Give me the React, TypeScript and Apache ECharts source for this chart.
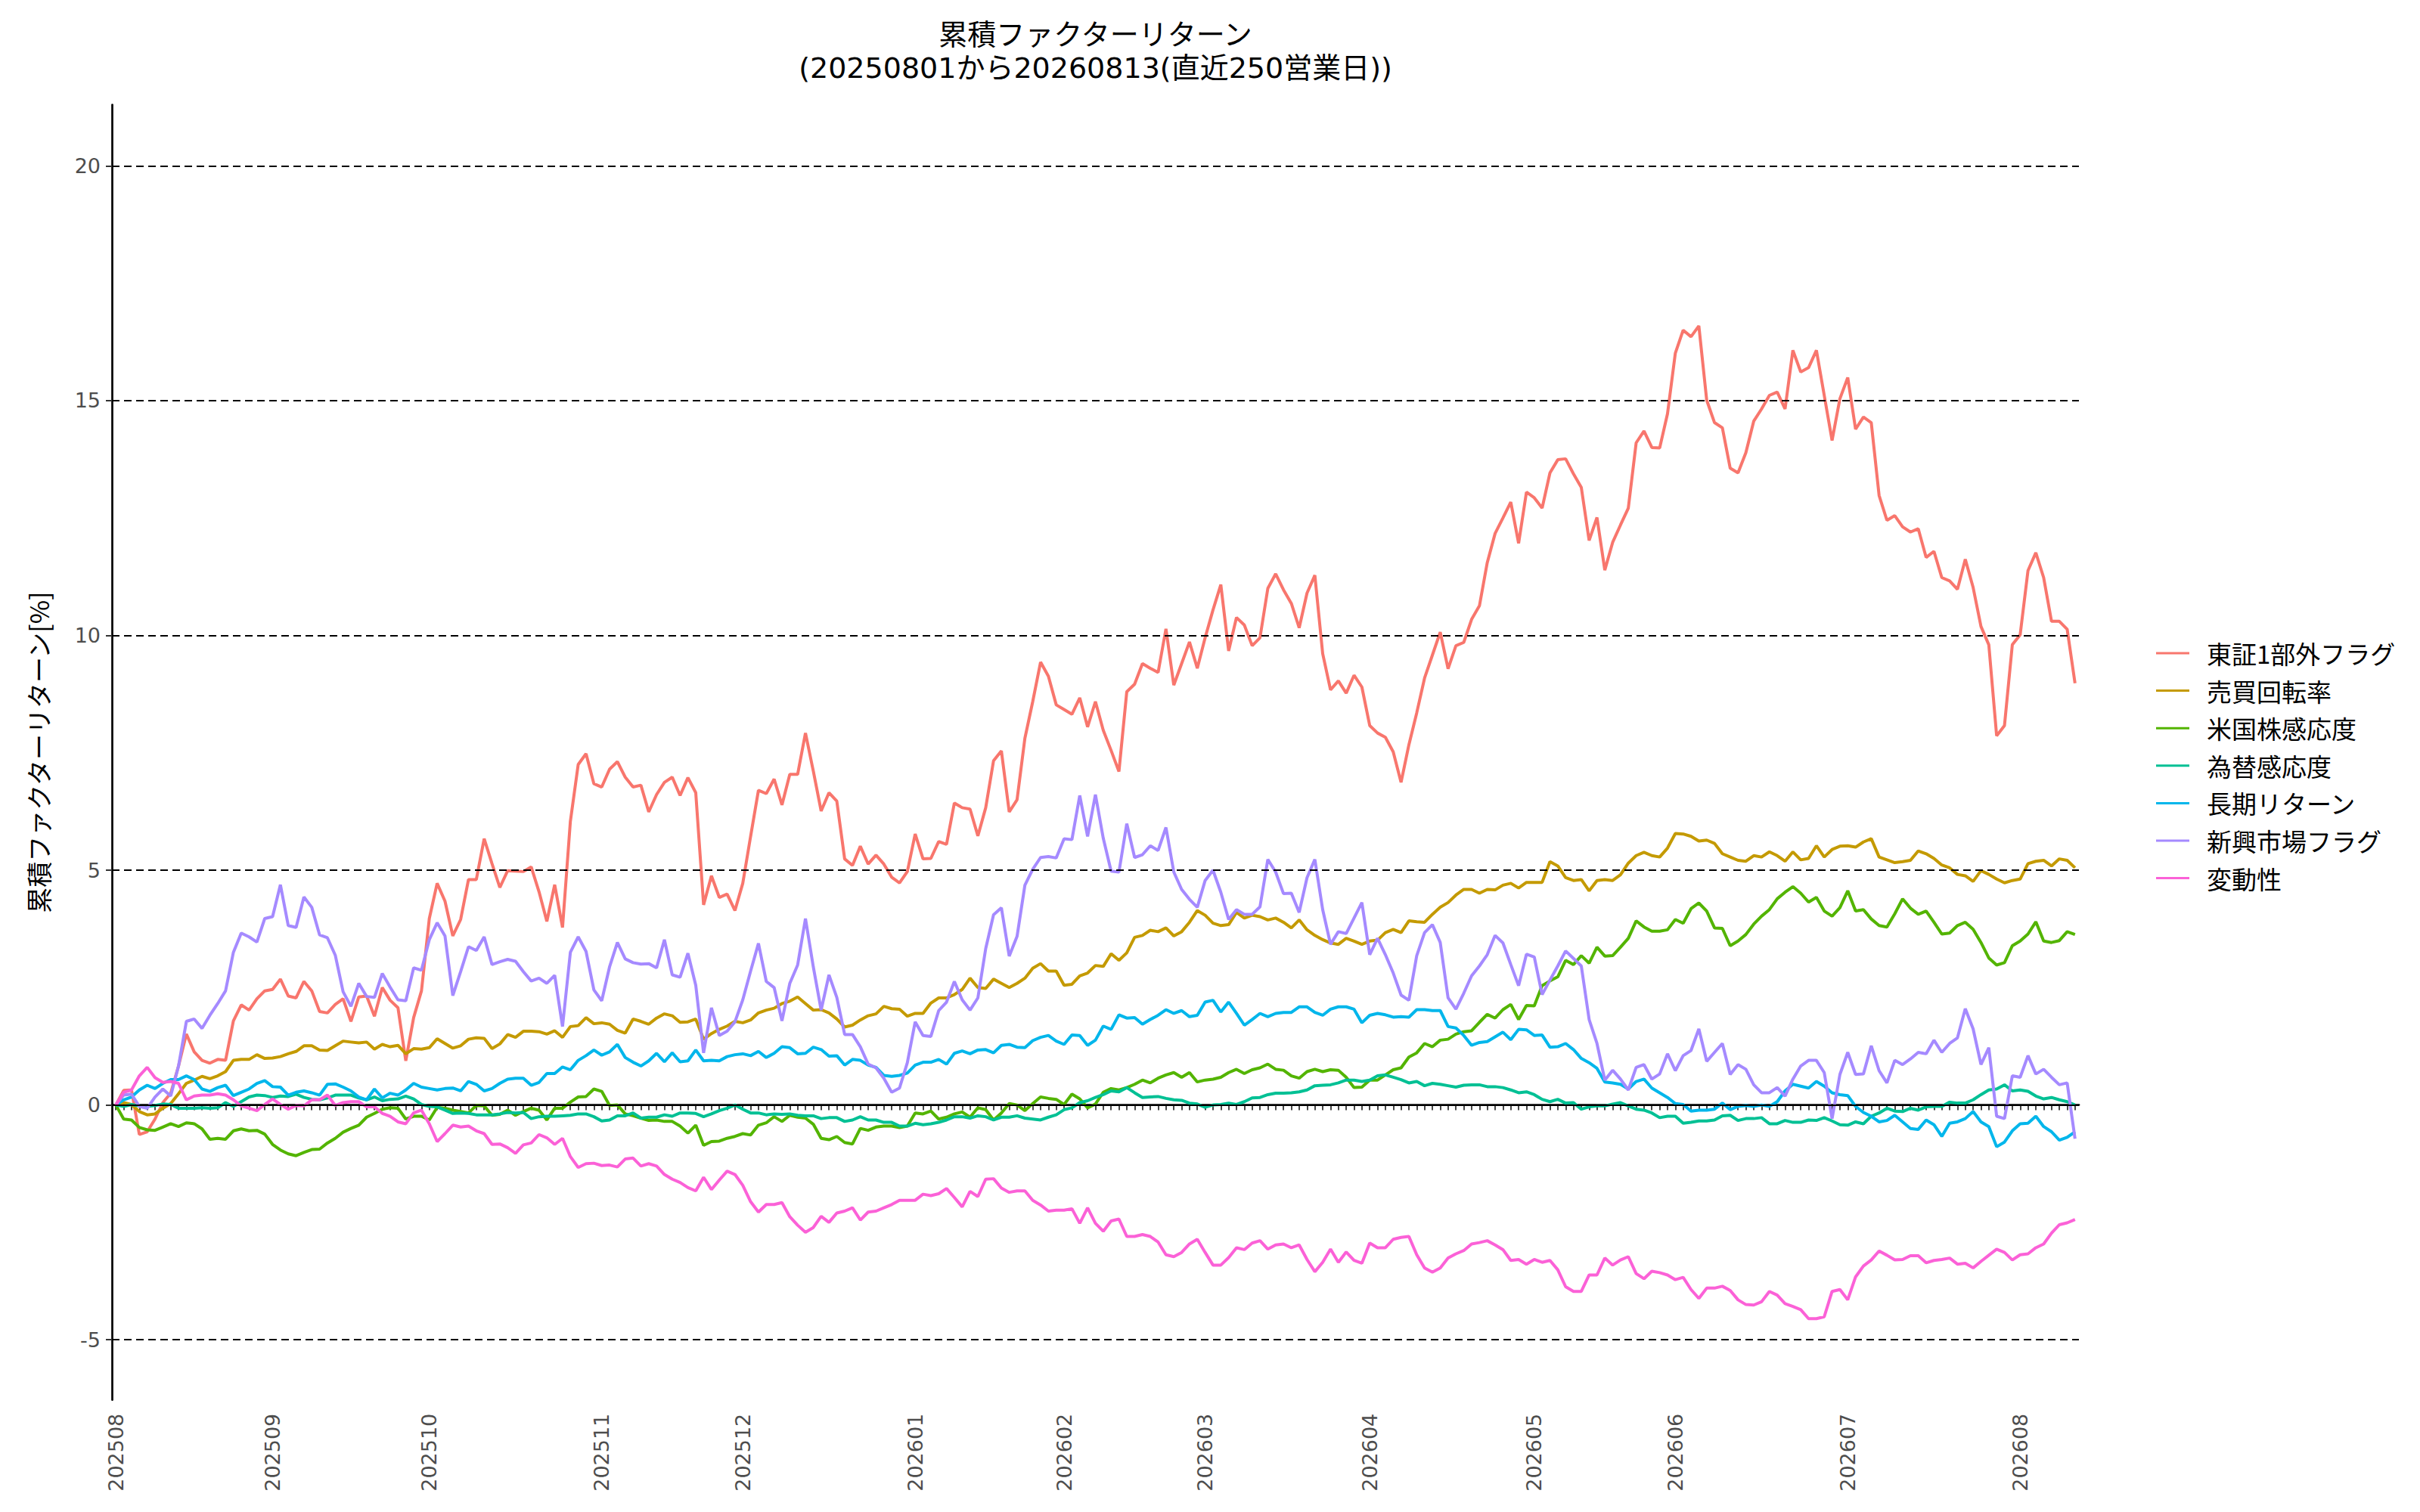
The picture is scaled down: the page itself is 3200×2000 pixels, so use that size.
import React, { useEffect, useRef } from "react";
import * as echarts from "echarts";

// ---- axis / category data ----
const months = ["202508", "202509", "202510", "202511", "202512", "202601", "202602", "202603", "202604", "202605", "202606", "202607", "202608"];
const tradingDaysPerMonth = [20, 20, 22, 18, 22, 19, 18, 21, 21, 18, 22, 22, 8];
const yTicks = [-5, 0, 5, 10, 15, 20];
const dashedLevels = [-5, 5, 10, 15, 20];

const seriesNames = ["東証1部外フラグ", "売買回転率", "米国株感応度", "為替感応度", "長期リターン", "新興市場フラグ", "変動性"];
const seriesColors = ["#F8766D", "#C49A00", "#53B400", "#00C094", "#00B6EB", "#A58AFF", "#FB61D7"];

// ---- series values (cumulative return, %) ----
const tosho1Outside = [
  0, 0.31, 0.32, -0.63, -0.57, -0.30, 0.05, 0.25, 0.83, 1.51,
  1.13, 0.95, 0.89, 0.97, 0.95, 1.79, 2.13, 2.02, 2.26, 2.43,
  2.46, 2.68, 2.32, 2.28, 2.63, 2.43, 1.99, 1.96, 2.14, 2.26,
  1.78, 2.30, 2.32, 1.89, 2.50, 2.23, 2.07, 0.94, 1.86, 2.43,
  3.97, 4.72, 4.34, 3.60, 3.95, 4.80, 4.80, 5.67, 5.14, 4.63,
  4.99, 4.98, 4.97, 5.07, 4.54, 3.91, 4.69, 3.78, 6.04, 7.25,
  7.48, 6.84, 6.77, 7.15, 7.31, 6.98, 6.77, 6.81, 6.24, 6.61,
  6.87, 6.98, 6.59, 6.97, 6.65, 4.26, 4.88, 4.42, 4.49, 4.14,
  4.72, 5.72, 6.70, 6.63, 6.94, 6.39, 7.04, 7.04, 7.92, 7.11,
  6.26, 6.65, 6.47, 5.24, 5.10, 5.51, 5.13, 5.32, 5.13, 4.85,
  4.73, 4.97, 5.77, 5.24, 5.25, 5.61, 5.55, 6.43, 6.33, 6.30,
  5.73, 6.33, 7.33, 7.54, 6.24, 6.50, 7.81, 8.59, 9.43, 9.13,
  8.52, 8.42, 8.32, 8.67, 8.05, 8.59, 7.98, 7.55, 7.10, 8.80,
  8.96, 9.40, 9.30, 9.21, 10.14, 8.94, 9.40, 9.86, 9.30, 9.95,
  10.54, 11.08, 9.67, 10.38, 10.22, 9.78, 9.95, 11.00, 11.31, 10.97,
  10.68, 10.16, 10.90, 11.28, 9.61, 8.84, 9.03, 8.77, 9.15, 8.90,
  8.08, 7.92, 7.83, 7.52, 6.87, 7.67, 8.35, 9.09, 9.58, 10.07,
  9.29, 9.78, 9.85, 10.34, 10.63, 11.55, 12.17, 12.50, 12.84, 11.96,
  13.05, 12.93, 12.71, 13.46, 13.74, 13.76, 13.44, 13.15, 12.02, 12.51,
  11.39, 11.98, 12.35, 12.71, 14.10, 14.35, 14.00, 13.99, 14.72, 16.01,
  16.50, 16.36, 16.59, 15.01, 14.53, 14.42, 13.56, 13.46, 13.89, 14.56,
  14.82, 15.11, 15.18, 14.82, 16.07, 15.61, 15.70, 16.07, 15.11, 14.15,
  15.04, 15.49, 14.39, 14.65, 14.53, 12.98, 12.45, 12.55, 12.31, 12.20,
  12.27, 11.66, 11.79, 11.23, 11.16, 10.98, 11.62, 11.02, 10.19, 9.80,
  7.86, 8.08, 9.80, 10.01, 11.38, 11.76, 11.23, 10.30, 10.30, 10.13,
  8.98,
];

const turnoverRate = [
  0, 0.05, 0.01, -0.14, -0.21, -0.19, -0.07, 0.03, 0.24, 0.46,
  0.53, 0.61, 0.56, 0.62, 0.71, 0.95, 0.97, 0.97, 1.07, 0.99,
  1.00, 1.03, 1.09, 1.14, 1.26, 1.26, 1.17, 1.16, 1.26, 1.36,
  1.34, 1.32, 1.34, 1.19, 1.29, 1.24, 1.27, 1.09, 1.20, 1.19,
  1.22, 1.41, 1.31, 1.21, 1.26, 1.40, 1.43, 1.42, 1.20, 1.30,
  1.50, 1.44, 1.57, 1.57, 1.56, 1.51, 1.58, 1.44, 1.67, 1.69,
  1.86, 1.73, 1.75, 1.72, 1.59, 1.53, 1.83, 1.78, 1.72, 1.85,
  1.94, 1.90, 1.76, 1.77, 1.83, 1.40, 1.52, 1.61, 1.68, 1.78,
  1.75, 1.81, 1.96, 2.02, 2.06, 2.16, 2.21, 2.30, 2.16, 2.02,
  2.03, 1.96, 1.83, 1.66, 1.70, 1.81, 1.90, 1.94, 2.10, 2.05,
  2.04, 1.89, 1.95, 1.95, 2.17, 2.28, 2.28, 2.35, 2.46, 2.70,
  2.50, 2.48, 2.68, 2.59, 2.50, 2.59, 2.70, 2.91, 3.01, 2.85,
  2.85, 2.55, 2.57, 2.75, 2.81, 2.97, 2.95, 3.22, 3.08, 3.24,
  3.57, 3.61, 3.72, 3.69, 3.77, 3.60, 3.69, 3.89, 4.14, 4.04,
  3.87, 3.82, 3.84, 4.10, 3.98, 4.04, 4.01, 3.94, 3.98, 3.89,
  3.77, 3.94, 3.73, 3.61, 3.52, 3.45, 3.42, 3.55, 3.49, 3.42,
  3.49, 3.51, 3.67, 3.74, 3.67, 3.92, 3.90, 3.89, 4.06, 4.21,
  4.31, 4.47, 4.59, 4.59, 4.51, 4.59, 4.58, 4.68, 4.72, 4.62,
  4.74, 4.74, 4.74, 5.18, 5.09, 4.84, 4.78, 4.80, 4.56, 4.78,
  4.80, 4.78, 4.90, 5.15, 5.31, 5.38, 5.31, 5.28, 5.47, 5.78,
  5.77, 5.72, 5.62, 5.64, 5.57, 5.35, 5.28, 5.21, 5.19, 5.31,
  5.28, 5.39, 5.31, 5.19, 5.39, 5.22, 5.25, 5.52, 5.28, 5.44,
  5.51, 5.52, 5.49, 5.60, 5.67, 5.28, 5.22, 5.16, 5.18, 5.21,
  5.41, 5.35, 5.25, 5.11, 5.05, 4.91, 4.88, 4.76, 4.99, 4.91,
  4.81, 4.73, 4.78, 4.81, 5.14, 5.19, 5.21, 5.09, 5.24, 5.21,
  5.05,
];

const usEquitySensitivity = [
  0, -0.30, -0.32, -0.48, -0.53, -0.54, -0.47, -0.40, -0.46, -0.38,
  -0.40, -0.51, -0.73, -0.71, -0.73, -0.55, -0.51, -0.55, -0.54, -0.62,
  -0.84, -0.96, -1.04, -1.08, -1.01, -0.95, -0.94, -0.81, -0.71, -0.58,
  -0.50, -0.43, -0.26, -0.18, -0.09, -0.06, -0.07, -0.30, -0.24, -0.24,
  -0.32, -0.05, -0.07, -0.11, -0.14, -0.17, -0.01, -0.02, -0.22, -0.20,
  -0.11, -0.22, -0.14, -0.07, -0.11, -0.32, -0.07, -0.07, 0.06, 0.17,
  0.18, 0.34, 0.29, -0.01, 0.00, -0.19, -0.23, -0.28, -0.33, -0.32,
  -0.35, -0.35, -0.45, -0.60, -0.43, -0.86, -0.78, -0.77, -0.71, -0.67,
  -0.61, -0.64, -0.43, -0.38, -0.25, -0.35, -0.22, -0.26, -0.28, -0.41,
  -0.71, -0.74, -0.67, -0.80, -0.83, -0.50, -0.54, -0.47, -0.45, -0.45,
  -0.48, -0.45, -0.17, -0.19, -0.13, -0.30, -0.26, -0.19, -0.15, -0.26,
  -0.06, -0.10, -0.32, -0.17, 0.03, 0.00, -0.12, 0.03, 0.17, 0.14,
  0.12, 0.01, 0.23, 0.13, -0.06, 0.02, 0.27, 0.35, 0.32, 0.37,
  0.44, 0.53, 0.47, 0.57, 0.64, 0.69, 0.59, 0.69, 0.49, 0.53,
  0.55, 0.59, 0.69, 0.76, 0.67, 0.75, 0.79, 0.87, 0.76, 0.74,
  0.62, 0.57, 0.71, 0.76, 0.71, 0.75, 0.74, 0.59, 0.37, 0.38,
  0.53, 0.53, 0.64, 0.75, 0.79, 1.02, 1.11, 1.31, 1.24, 1.38,
  1.40, 1.51, 1.56, 1.58, 1.76, 1.93, 1.85, 2.03, 2.14, 1.82,
  2.12, 2.11, 2.54, 2.64, 2.73, 3.08, 2.99, 3.18, 3.02, 3.36,
  3.17, 3.18, 3.36, 3.55, 3.92, 3.79, 3.70, 3.70, 3.73, 3.95,
  3.87, 4.18, 4.30, 4.13, 3.77, 3.76, 3.39, 3.49, 3.63, 3.85,
  4.02, 4.16, 4.39, 4.53, 4.65, 4.51, 4.32, 4.42, 4.13, 4.02,
  4.20, 4.56, 4.13, 4.16, 3.96, 3.82, 3.79, 4.07, 4.39, 4.19,
  4.06, 4.13, 3.89, 3.64, 3.66, 3.82, 3.89, 3.74, 3.46, 3.13,
  2.98, 3.03, 3.39, 3.49, 3.64, 3.90, 3.49, 3.46, 3.50, 3.69,
  3.63,
];

const fxSensitivity = [
  0, -0.03, 0.01, -0.02, -0.03, -0.01, 0.02, 0.01, -0.07, -0.07,
  -0.07, -0.06, -0.07, -0.06, 0.05, -0.03, 0.07, 0.17, 0.21, 0.20,
  0.16, 0.19, 0.18, 0.23, 0.16, 0.12, 0.11, 0.15, 0.21, 0.21,
  0.21, 0.15, 0.11, 0.17, 0.09, 0.12, 0.13, 0.19, 0.13, 0.01,
  -0.03, -0.04, -0.11, -0.18, -0.17, -0.18, -0.21, -0.21, -0.21, -0.19,
  -0.16, -0.17, -0.16, -0.29, -0.25, -0.24, -0.24, -0.23, -0.22, -0.19,
  -0.19, -0.25, -0.34, -0.32, -0.23, -0.23, -0.17, -0.28, -0.26, -0.26,
  -0.21, -0.24, -0.17, -0.17, -0.18, -0.25, -0.19, -0.12, -0.07, 0.00,
  -0.09, -0.17, -0.17, -0.21, -0.19, -0.20, -0.19, -0.22, -0.23, -0.23,
  -0.29, -0.27, -0.27, -0.35, -0.32, -0.25, -0.32, -0.32, -0.37, -0.37,
  -0.45, -0.45, -0.39, -0.42, -0.40, -0.37, -0.32, -0.25, -0.25, -0.28,
  -0.23, -0.25, -0.32, -0.26, -0.26, -0.23, -0.28, -0.30, -0.32, -0.26,
  -0.21, -0.10, -0.06, 0.05, 0.09, 0.16, 0.22, 0.30, 0.28, 0.37,
  0.26, 0.16, 0.17, 0.18, 0.14, 0.11, 0.10, 0.04, 0.02, -0.05,
  0.00, 0.01, 0.04, 0.01, 0.07, 0.15, 0.16, 0.22, 0.25, 0.25,
  0.26, 0.28, 0.32, 0.41, 0.42, 0.43, 0.47, 0.53, 0.53, 0.50,
  0.53, 0.62, 0.64, 0.59, 0.54, 0.47, 0.50, 0.41, 0.46, 0.44,
  0.41, 0.38, 0.42, 0.43, 0.43, 0.39, 0.39, 0.37, 0.32, 0.26,
  0.28, 0.22, 0.12, 0.07, 0.12, 0.04, 0.05, -0.09, -0.04, -0.02,
  -0.02, 0.02, 0.05, -0.02, -0.09, -0.11, -0.17, -0.27, -0.24, -0.24,
  -0.39, -0.37, -0.34, -0.34, -0.32, -0.23, -0.22, -0.33, -0.29, -0.29,
  -0.27, -0.40, -0.40, -0.33, -0.37, -0.37, -0.32, -0.33, -0.27, -0.34,
  -0.42, -0.43, -0.36, -0.40, -0.24, -0.17, -0.07, -0.13, -0.14, -0.07,
  -0.11, -0.04, -0.03, -0.03, 0.06, 0.04, 0.04, 0.11, 0.22, 0.32,
  0.34, 0.43, 0.30, 0.32, 0.29, 0.19, 0.13, 0.16, 0.11, 0.07,
  0.00,
];

const longTermReturn = [
  0, 0.11, 0.17, 0.32, 0.42, 0.35, 0.46, 0.54, 0.54, 0.62,
  0.54, 0.34, 0.29, 0.37, 0.42, 0.20, 0.27, 0.34, 0.46, 0.52,
  0.39, 0.38, 0.21, 0.27, 0.30, 0.26, 0.21, 0.44, 0.45, 0.38,
  0.30, 0.17, 0.11, 0.34, 0.15, 0.25, 0.21, 0.32, 0.46, 0.38,
  0.35, 0.32, 0.35, 0.36, 0.30, 0.50, 0.44, 0.30, 0.35, 0.46,
  0.55, 0.57, 0.57, 0.42, 0.48, 0.67, 0.67, 0.81, 0.75, 0.95,
  1.05, 1.17, 1.06, 1.13, 1.29, 1.01, 0.91, 0.83, 0.94, 1.10,
  0.92, 1.11, 0.92, 0.94, 1.17, 0.94, 0.95, 0.94, 1.03, 1.07,
  1.09, 1.05, 1.14, 1.01, 1.10, 1.24, 1.22, 1.09, 1.10, 1.23,
  1.18, 1.04, 1.05, 0.85, 0.97, 0.95, 0.85, 0.80, 0.63, 0.61,
  0.63, 0.68, 0.85, 0.91, 0.91, 0.97, 0.87, 1.10, 1.15, 1.09,
  1.17, 1.18, 1.11, 1.27, 1.29, 1.23, 1.22, 1.37, 1.44, 1.48,
  1.36, 1.29, 1.49, 1.48, 1.27, 1.38, 1.68, 1.61, 1.92, 1.85,
  1.86, 1.72, 1.82, 1.91, 2.03, 1.95, 2.01, 1.88, 1.91, 2.19,
  2.23, 1.98, 2.19, 1.95, 1.70, 1.82, 1.95, 1.88, 1.95, 1.97,
  1.97, 2.09, 2.09, 1.97, 1.91, 2.04, 2.09, 2.09, 2.04, 1.75,
  1.91, 1.95, 1.92, 1.87, 1.88, 1.87, 2.03, 2.03, 2.01, 2.01,
  1.67, 1.64, 1.48, 1.27, 1.33, 1.35, 1.45, 1.55, 1.39, 1.61,
  1.60, 1.48, 1.49, 1.23, 1.24, 1.31, 1.18, 0.99, 0.90, 0.78,
  0.49, 0.47, 0.44, 0.34, 0.50, 0.55, 0.36, 0.26, 0.16, 0.03,
  0.01, -0.13, -0.11, -0.11, -0.09, 0.04, -0.10, -0.03, -0.01, -0.03,
  0.00, -0.03, 0.07, 0.30, 0.44, 0.40, 0.36, 0.50, 0.40, 0.26,
  0.22, 0.20, -0.03, -0.16, -0.24, -0.36, -0.33, -0.22, -0.36, -0.50,
  -0.52, -0.32, -0.42, -0.67, -0.39, -0.36, -0.29, -0.14, -0.36, -0.46,
  -0.89, -0.79, -0.55, -0.40, -0.39, -0.24, -0.46, -0.57, -0.75, -0.69,
  -0.57,
];

const emergingMarketFlag = [
  0, 0.21, 0.23, -0.03, -0.07, 0.17, 0.34, 0.19, 0.83, 1.78,
  1.83, 1.63, 1.91, 2.16, 2.43, 3.25, 3.66, 3.58, 3.47, 3.97,
  4.01, 4.69, 3.82, 3.78, 4.43, 4.21, 3.62, 3.56, 3.19, 2.41,
  2.10, 2.59, 2.31, 2.29, 2.80, 2.51, 2.24, 2.22, 2.92, 2.87,
  3.52, 3.88, 3.60, 2.33, 2.84, 3.37, 3.29, 3.58, 2.99, 3.05,
  3.10, 3.06, 2.84, 2.64, 2.70, 2.59, 2.76, 1.67, 3.25, 3.58,
  3.27, 2.45, 2.22, 2.94, 3.46, 3.11, 3.03, 3.00, 3.01, 2.92,
  3.52, 2.77, 2.72, 3.23, 2.55, 1.11, 2.07, 1.48, 1.57, 1.77,
  2.24, 2.85, 3.44, 2.63, 2.50, 1.79, 2.59, 2.98, 3.97, 2.94,
  2.02, 2.77, 2.29, 1.50, 1.50, 1.24, 0.87, 0.79, 0.57, 0.27,
  0.36, 0.90, 1.77, 1.48, 1.46, 2.01, 2.19, 2.63, 2.24, 2.02,
  2.28, 3.33, 4.05, 4.20, 3.17, 3.59, 4.68, 5.02, 5.27, 5.29,
  5.26, 5.67, 5.65, 6.59, 5.72, 6.61, 5.68, 4.98, 4.96, 5.99,
  5.27, 5.33, 5.52, 5.42, 5.91, 4.96, 4.59, 4.38, 4.21, 4.78,
  5.00, 4.53, 3.95, 4.16, 4.06, 4.06, 4.22, 5.23, 4.96, 4.50,
  4.51, 4.10, 4.84, 5.23, 4.16, 3.42, 3.69, 3.65, 3.98, 4.31,
  3.20, 3.55, 3.20, 2.81, 2.34, 2.23, 3.18, 3.67, 3.84, 3.46,
  2.28, 2.04, 2.38, 2.75, 2.96, 3.20, 3.61, 3.45, 2.99, 2.54,
  3.21, 3.15, 2.35, 2.66, 2.96, 3.28, 3.12, 2.96, 1.82, 1.31,
  0.53, 0.74, 0.55, 0.32, 0.80, 0.86, 0.55, 0.66, 1.09, 0.73,
  1.05, 1.16, 1.62, 0.93, 1.12, 1.31, 0.65, 0.86, 0.76, 0.43,
  0.26, 0.26, 0.37, 0.19, 0.55, 0.83, 0.95, 0.95, 0.69, -0.29,
  0.65, 1.12, 0.65, 0.66, 1.26, 0.73, 0.47, 0.95, 0.86, 0.98,
  1.12, 1.09, 1.38, 1.12, 1.31, 1.43, 2.05, 1.62, 0.86, 1.22,
  -0.24, -0.29, 0.62, 0.59, 1.05, 0.66, 0.76, 0.59, 0.43, 0.47,
  -0.72,
];

const volatility = [
  0, 0.27, 0.32, 0.62, 0.80, 0.58, 0.48, 0.50, 0.46, 0.11,
  0.19, 0.21, 0.21, 0.24, 0.21, 0.11, -0.02, -0.07, -0.12, 0.01,
  0.13, 0.01, -0.09, -0.01, -0.02, 0.11, 0.11, 0.21, -0.01, 0.05,
  0.07, 0.07, -0.04, -0.04, -0.18, -0.24, -0.36, -0.40, -0.17, -0.11,
  -0.40, -0.78, -0.61, -0.43, -0.47, -0.45, -0.55, -0.61, -0.84, -0.83,
  -0.91, -1.03, -0.85, -0.81, -0.63, -0.70, -0.84, -0.71, -1.10, -1.33,
  -1.25, -1.24, -1.29, -1.28, -1.32, -1.15, -1.13, -1.30, -1.25, -1.30,
  -1.48, -1.58, -1.65, -1.76, -1.83, -1.54, -1.80, -1.60, -1.41, -1.48,
  -1.71, -2.06, -2.28, -2.12, -2.12, -2.08, -2.38, -2.56, -2.71, -2.61,
  -2.37, -2.50, -2.30, -2.26, -2.19, -2.45, -2.28, -2.26, -2.19, -2.12,
  -2.03, -2.03, -2.03, -1.90, -1.93, -1.89, -1.78, -1.97, -2.17, -1.84,
  -1.95, -1.58, -1.57, -1.77, -1.86, -1.83, -1.83, -2.03, -2.13, -2.26,
  -2.24, -2.24, -2.21, -2.52, -2.19, -2.52, -2.69, -2.47, -2.43, -2.80,
  -2.80, -2.76, -2.80, -2.92, -3.19, -3.23, -3.14, -2.96, -2.86, -3.14,
  -3.41, -3.41, -3.25, -3.04, -3.08, -2.94, -2.89, -3.07, -2.98, -2.96,
  -3.04, -2.98, -3.29, -3.55, -3.35, -3.07, -3.35, -3.13, -3.31, -3.37,
  -2.94, -3.04, -3.04, -2.86, -2.82, -2.80, -3.19, -3.47, -3.56, -3.47,
  -3.26, -3.17, -3.10, -2.96, -2.93, -2.89, -2.98, -3.08, -3.31, -3.29,
  -3.39, -3.29, -3.35, -3.31, -3.51, -3.87, -3.97, -3.97, -3.62, -3.62,
  -3.26, -3.41, -3.30, -3.23, -3.59, -3.70, -3.54, -3.57, -3.62, -3.72,
  -3.67, -3.93, -4.12, -3.90, -3.90, -3.86, -3.95, -4.15, -4.25, -4.26,
  -4.19, -3.97, -4.05, -4.23, -4.29, -4.36, -4.55, -4.55, -4.51, -3.97,
  -3.93, -4.15, -3.66, -3.43, -3.30, -3.11, -3.20, -3.30, -3.29, -3.21,
  -3.21, -3.36, -3.31, -3.29, -3.26, -3.39, -3.37, -3.47, -3.33, -3.20,
  -3.07, -3.14, -3.30, -3.19, -3.17, -3.04, -2.96, -2.73, -2.55, -2.51,
  -2.44,
];

const seriesValues = [tosho1Outside, turnoverRate, usEquitySensitivity, fxSensitivity, longTermReturn, emergingMarketFlag, volatility];

const titleLine1 = "累積ファクターリターン";
const titleLine2 = "(20250801から20260813(直近250営業日))";
const yAxisTitle = "累積ファクターリターン[%]";

const CJK = "'Noto Sans CJK JP', 'Noto Sans', sans-serif";
const MIXED = "'DejaVu Sans', 'Noto Sans CJK JP', sans-serif";
const NUM = "'DejaVu Sans', sans-serif";

export default function App() {
  const ref = useRef<HTMLDivElement>(null);

  useEffect(() => {
    if (!ref.current) return;
    const chart = echarts.init(ref.current, null, { renderer: "svg" });

    const categories: string[] = months.flatMap((m, k) =>
      Array.from({ length: tradingDaysPerMonth[k] }, (_, d) => `${m}-${d + 1}`)
    );
    const isMonthStart = (v: string) => String(v).split("-")[1] === "1";

    const gridLeft = 148;
    const gridTop = 138.5;
    const gridRight = 3200 - 2749;
    const gridBottom = 2000 - 1851.7;
    const plotCenterX = (gridLeft + 2749) / 2;
    const plotCenterY = (gridTop + 1851.7) / 2;

    const option: any = {
      animation: false,
      backgroundColor: "#ffffff",
      grid: { left: gridLeft, right: gridRight, top: gridTop, bottom: gridBottom, containLabel: false },
      xAxis: {
        type: "category",
        data: categories,
        boundaryGap: true,
        axisLine: { show: true, lineStyle: { color: "#000", width: 2.7 } },
        axisTick: { show: true, interval: 0, alignWithLabel: true, length: 7, lineStyle: { color: "#333", width: 1.8 } },
        axisLabel: {
          interval: (index: number, value: string) => isMonthStart(value),
          formatter: (value: string) => String(value).split("-")[0],
          rotate: 90,
          margin: 18,
          fontSize: 27,
          color: "#4D4D4D",
          fontFamily: NUM,
        },
        splitLine: { show: false },
      },
      yAxis: {
        type: "value",
        min: -6.28,
        max: 21.3,
        axisLine: { show: true, lineStyle: { color: "#000", width: 2.7 } },
        axisTick: { show: true, customValues: yTicks, length: 8, lineStyle: { color: "#333", width: 2 } },
        axisLabel: { customValues: yTicks, margin: 15, fontSize: 27, color: "#4D4D4D", fontFamily: NUM },
        splitLine: { show: false },
      },
      legend: {
        data: seriesNames,
        orient: "vertical",
        left: 2846,
        top: 839,
        itemWidth: 44,
        itemHeight: 3,
        itemGap: 9.6,
        icon: "rect",
        selectedMode: false,
        textStyle: { fontSize: 33, lineHeight: 40, color: "#000", fontFamily: CJK, padding: [0, 0, 0, 18] },
      },
      graphic: [
        {
          type: "text",
          x: plotCenterX,
          y: 46,
          silent: true,
          style: {
            text: titleLine1,
            align: "center",
            textAlign: "center",
            verticalAlign: "middle",
            textVerticalAlign: "middle",
            fontSize: 38,
            fill: "#000",
            fontFamily: MIXED,
          },
        },
        {
          type: "text",
          x: plotCenterX,
          y: 90,
          silent: true,
          style: {
            text: titleLine2,
            align: "center",
            textAlign: "center",
            verticalAlign: "middle",
            textVerticalAlign: "middle",
            fontSize: 38,
            fill: "#000",
            fontFamily: MIXED,
          },
        },
        {
          type: "text",
          x: 50,
          y: plotCenterY,
          rotation: Math.PI / 2,
          silent: true,
          style: {
            text: yAxisTitle,
            align: "center",
            textAlign: "center",
            verticalAlign: "middle",
            textVerticalAlign: "middle",
            fontSize: 34,
            fill: "#000",
            fontFamily: CJK,
          },
        },
      ],
      series: [
        {
          name: "_grid",
          type: "line",
          data: [],
          z: 1,
          silent: true,
          markLine: {
            silent: true,
            symbol: ["none", "none"],
            label: { show: false },
            emphasis: { disabled: true },
            data: [
              ...dashedLevels.map((v) => ({ yAxis: v, lineStyle: { type: [10, 6], color: "#000", width: 2 } })),
              { yAxis: 0, lineStyle: { type: "solid", color: "#000", width: 2 } },
            ],
          },
        },
        ...seriesNames.map((name, k) => ({
          name,
          type: "line",
          data: seriesValues[k],
          symbol: "none",
          showSymbol: false,
          z: 2,
          lineStyle: { width: 4, color: seriesColors[k] },
          itemStyle: { color: seriesColors[k] },
          emphasis: { disabled: true },
        })),
      ],
    };

    chart.setOption(option);
    return () => chart.dispose();
  }, []);

  return (
    <div
      ref={ref}
      style={{ position: "fixed", left: 0, top: 0, width: 3200, height: 2000, background: "#fff" }}
    />
  );
}
